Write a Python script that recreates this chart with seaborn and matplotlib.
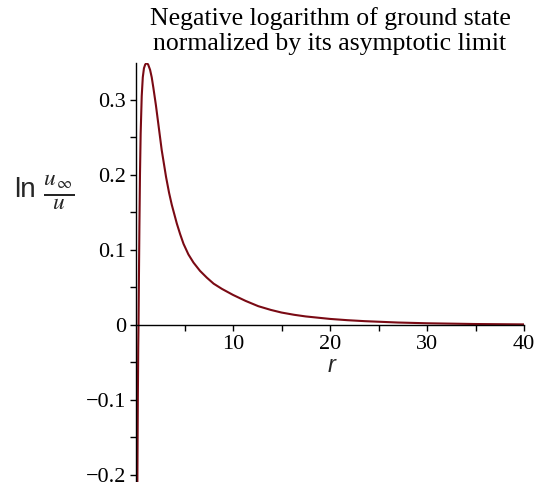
import numpy as np
import seaborn as sns
import matplotlib.pyplot as plt
from matplotlib.ticker import FixedLocator, FixedFormatter

# values
r = [0.12, 0.15, 0.19, 0.23, 0.26, 0.30, 0.35, 0.41, 0.48, 0.59, 0.70, 0.82,
     0.95, 1.10, 1.25, 1.45, 1.62, 1.79, 2.05, 2.30, 2.65, 2.90, 3.10, 3.41,
     3.69, 4.21, 4.55, 4.9, 5.4, 5.93, 6.6, 7.3, 8.0, 8.86, 10, 11.3, 12.6,
     13.9, 15, 16.3, 17.5, 20, 21.8, 23.6, 27, 30, 35, 40]
lnratio = [-0.26, -0.19, -0.10, -0.03, 0.0, 0.06, 0.13, 0.20, 0.255, 0.305, 0.330, 0.342,
           0.347, 0.349, 0.347, 0.340, 0.330, 0.316, 0.293, 0.268, 0.233, 0.213, 0.197, 0.176,
           0.160, 0.135, 0.121, 0.108, 0.094, 0.083, 0.072, 0.063, 0.055, 0.048, 0.040, 0.032,
           0.025, 0.020, 0.0165, 0.0135, 0.0113, 0.008, 0.0063, 0.005, 0.0032, 0.0022, 0.0012, 0.0007]

xticks = [10, 20, 30, 40]
xtick_labels = ["10", "20", "30", "40"]
yticks = [-0.2, -0.1, 0, 0.1, 0.2, 0.3]
ytick_labels = ["\u22120.2", "\u22120.1", "0", "0.1", "0.2", "0.3"]

sns.set_theme(style="white")
plt.rcParams["font.family"] = ["Liberation Serif", "DejaVu Serif"]
plt.rcParams["mathtext.fontset"] = "stix"

fig = plt.figure(figsize=(5.38, 4.82), dpi=100)
ax = fig.add_axes([136 / 538, 0.0, 388 / 538, 1 - 63 / 482])

sns.lineplot(x=r, y=lnratio, color="#7a0a14", linewidth=1.5, ax=ax)

ax.set_xlim(0, 40)
ax.set_ylim(-0.2093, 0.349)

for s in ["top", "right"]:
    ax.spines[s].set_visible(False)
ax.spines["bottom"].set_position(("data", 0))
for s in ["left", "bottom"]:
    ax.spines[s].set_color("black")
    ax.spines[s].set_linewidth(1.0)

ax.xaxis.set_major_locator(FixedLocator(xticks))
ax.xaxis.set_major_formatter(FixedFormatter(xtick_labels))
ax.xaxis.set_minor_locator(FixedLocator([5, 15, 25, 35]))
ax.yaxis.set_major_locator(FixedLocator(yticks))
ax.yaxis.set_major_formatter(FixedFormatter(ytick_labels))
ax.yaxis.set_minor_locator(FixedLocator([-0.15, -0.05, 0.05, 0.15, 0.25]))

ax.tick_params(which="both", direction="out", length=4, width=1, color="black",
               bottom=True, left=True)
ax.tick_params(axis="both", labelsize=16, colors="black", pad=3)
ax.tick_params(axis="x", pad=3)

fig.text(330 / 538, 1 - 7 / 482,
         "Negative logarithm of ground state\nnormalized by its asymptotic limit",
         ha="center", va="top", fontsize=18.5, color="black", linespacing=1.2)

fig.text(332 / 538, 1 - 365 / 482, "r", family="Liberation Sans", style="italic",
         fontsize=17, ha="center", va="center")

fig.text(14 / 538, 1 - 190 / 482, "ln", family="Liberation Sans", fontsize=20,
         ha="left", va="center")
fig.text(43 / 538, 1 - 192 / 482, r"$\frac{u_{\,\infty}}{u}$", fontsize=24,
         ha="left", va="center")

fig.savefig("out.png", dpi=100)
